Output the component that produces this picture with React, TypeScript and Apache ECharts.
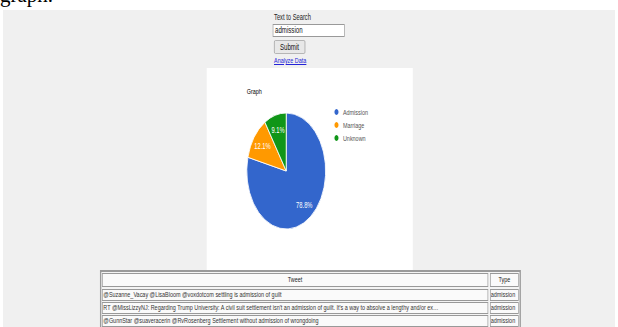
import React, { useEffect, useRef } from "react";
import * as echarts from "echarts";

const categories = ["Admission", "Marriage", "Unknown"];
const counts = [26, 4, 3];
const palette = ["#3366cc", "#ff9900", "#109618"];
const tweets = [
  "@Suzanne_Vacay @LisaBloom @voxdotcom settling is admission of guilt",
  "RT @MissLizzyNJ: Regarding Trump University: A civil suit settlement isn't an admission of guilt. It's a way to absolve a lengthy and/or ex…",
  "@GunnStar @suaveracerin @RvRosenberg Settlement without admission of wrongdoing",
];
const types = ["admission", "admission", "admission"];

const S = 0.68;
const X = (v: number) => v / S;

function Chart() {
  const ref = useRef<HTMLDivElement>(null);
  useEffect(() => {
    if (!ref.current) return;
    const chart = echarts.init(ref.current, null, { renderer: "svg" });
    const data = categories.map((name, i) => ({ name, value: counts[i] }));
    const cx = X(286.5 - 207);
    const cy = 171 - 70;
    chart.setOption({
      animation: false,
      color: palette,
      title: {
        text: "Graph",
        left: X(40) - 5,
        top: 12,
        textStyle: { fontSize: 8, fontWeight: "normal", color: "#000", fontFamily: "Liberation Sans, Arial" },
      },
      legend: {
        orient: "vertical",
        left: X(332 - 207) - 3,
        top: 32,
        icon: "circle",
        itemWidth: 9,
        itemHeight: 8,
        itemGap: 3,
        textStyle: { fontSize: 8, color: "#555", fontFamily: "Liberation Sans, Arial" },
        data: categories,
      },
      series: [
        {
          type: "pie",
          center: [cx, cy],
          radius: [0, 58],
          startAngle: 90,
          clockwise: true,
          percentPrecision: 1,
          itemStyle: { borderColor: "#fff", borderWidth: 1 },
          label: { show: false },
          labelLine: { show: false },
          emphasis: { disabled: true },
          data,
        },
        {
          type: "pie",
          center: [cx, cy],
          radius: [0, 80],
          startAngle: 90,
          clockwise: true,
          percentPrecision: 1,
          silent: true,
          itemStyle: { color: "transparent", borderWidth: 0 },
          label: {
            show: true,
            position: "inside",
            formatter: "{d}%",
            color: "#fff",
            fontSize: 8.5,
            fontFamily: "Liberation Sans, Arial",
          },
          labelLine: { show: false },
          emphasis: { disabled: true },
          legendHoverLink: false,
          data,
        },
      ],
    });
    return () => chart.dispose();
  }, []);
  return (
    <div
      ref={ref}
      style={{ position: "absolute", left: X(207), top: 70, width: X(206), height: 200 }}
    />
  );
}

const font = "'Liberation Sans', Arial, sans-serif";

export default function App() {
  const rowTops = [289, 302, 315];
  return (
    <div style={{ position: "absolute", left: 0, top: 0, width: 618, height: 327, overflow: "hidden", background: "#fff" }}>
      <div
        style={{
          position: "absolute",
          left: 0,
          top: -17,
          fontFamily: "'Liberation Serif', serif",
          fontSize: 21,
          lineHeight: "24px",
          color: "#000",
        }}
      >
        graph.
      </div>
      <div style={{ position: "absolute", left: 3, top: 10, width: 612, height: 317, background: "#f0f0f0" }} />
      <div
        style={{
          position: "absolute",
          left: 0,
          top: 0,
          width: X(618),
          height: 327,
          transform: `scaleX(${S})`,
          transformOrigin: "0 0",
          fontFamily: font,
        }}
      >
        <div style={{ position: "absolute", left: X(274), top: 13, fontSize: 8.5, lineHeight: "9px", color: "#222", whiteSpace: "nowrap" }}>
          Text to Search
        </div>
        <div
          style={{
            position: "absolute",
            left: X(273),
            top: 24,
            width: X(72),
            height: 13,
            boxSizing: "border-box",
            border: "1px solid #999",
            background: "#fff",
            fontSize: 9,
            lineHeight: "11px",
            paddingLeft: 2,
            color: "#111",
          }}
        >
          admission
        </div>
        <div
          style={{
            position: "absolute",
            left: X(274),
            top: 40,
            width: X(31),
            height: 14,
            boxSizing: "border-box",
            border: "1px solid #aaa",
            borderRadius: 2,
            background: "#e8e8e8",
            fontSize: 9,
            lineHeight: "12px",
            textAlign: "center",
            color: "#111",
          }}
        >
          Submit
        </div>
        <div
          style={{
            position: "absolute",
            left: X(274),
            top: 56,
            fontSize: 8,
            lineHeight: "9px",
            color: "#2424d8",
            textDecoration: "underline",
            whiteSpace: "nowrap",
          }}
        >
          Analyze Data
        </div>
        <div style={{ position: "absolute", left: X(207), top: 68, width: X(206), height: 202, background: "#fff" }} />
        <Chart />
        <div
          style={{
            position: "absolute",
            left: X(100),
            top: 270,
            width: X(421),
            height: 70,
            boxSizing: "border-box",
            border: "2px solid #9a9a9a",
            background: "#f4f4f4",
          }}
        />
        <div
          style={{
            position: "absolute",
            left: X(102),
            top: 273,
            width: X(386),
            height: 14,
            boxSizing: "border-box",
            border: "1px solid #999",
            background: "#fafafa",
            fontSize: 8,
            lineHeight: "12px",
            textAlign: "center",
            color: "#222",
          }}
        >
          Tweet
        </div>
        <div
          style={{
            position: "absolute",
            left: X(490),
            top: 273,
            width: X(29),
            height: 14,
            boxSizing: "border-box",
            border: "1px solid #999",
            background: "#fafafa",
            fontSize: 8,
            lineHeight: "12px",
            textAlign: "center",
            color: "#222",
          }}
        >
          Type
        </div>
        {tweets.map((t, i) => (
          <React.Fragment key={i}>
            <div
              style={{
                position: "absolute",
                left: X(102),
                top: rowTops[i],
                width: X(386),
                height: 12,
                boxSizing: "border-box",
                border: "1px solid #999",
                background: "#fafafa",
                fontSize: 8,
                lineHeight: "10px",
                paddingLeft: 1,
                color: "#333",
                whiteSpace: "nowrap",
                overflow: "hidden",
              }}
            >
              {t}
            </div>
            <div
              style={{
                position: "absolute",
                left: X(490),
                top: rowTops[i],
                width: X(29),
                height: 12,
                boxSizing: "border-box",
                border: "1px solid #999",
                background: "#fafafa",
                fontSize: 8,
                lineHeight: "10px",
                color: "#333",
                whiteSpace: "nowrap",
                overflow: "hidden",
              }}
            >
              {types[i]}
            </div>
          </React.Fragment>
        ))}
      </div>
    </div>
  );
}
